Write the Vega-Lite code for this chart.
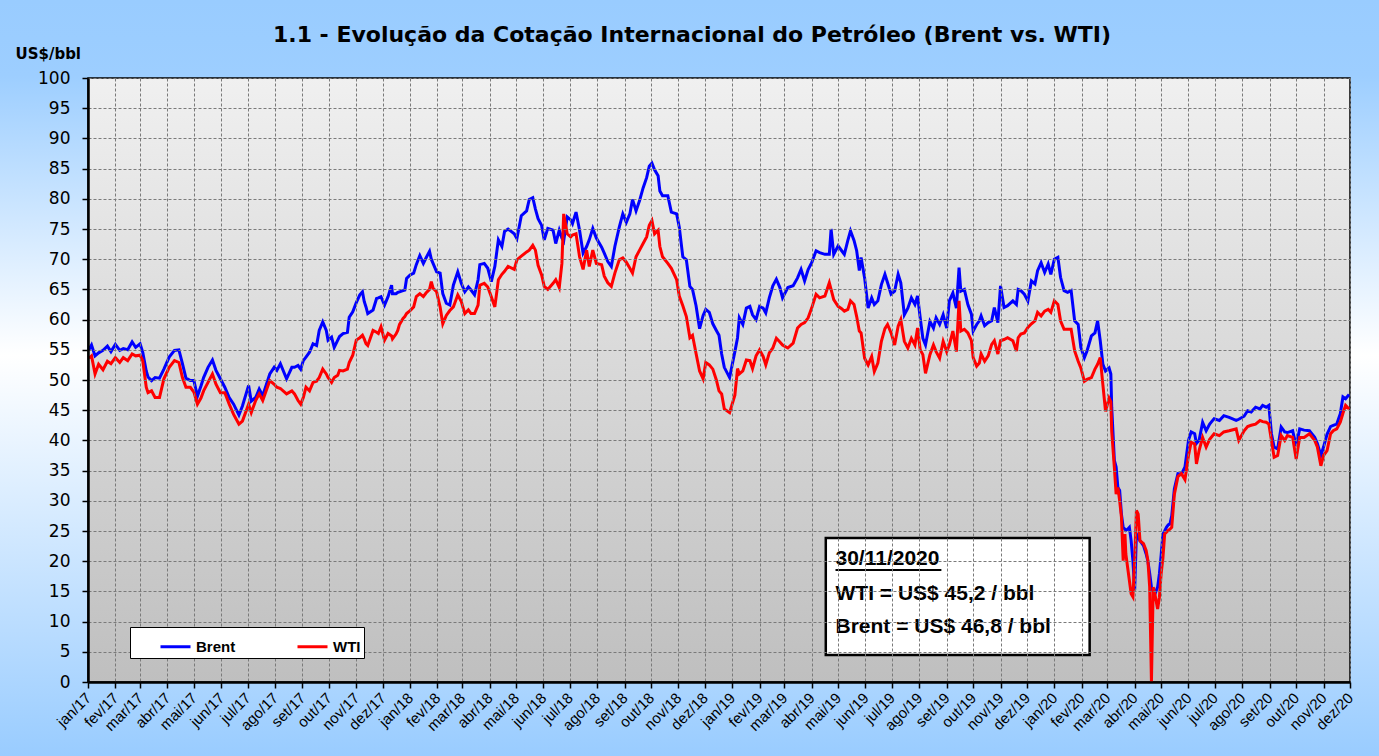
{
  "$schema": "https://vega.github.io/schema/vega-lite/v6.json",
  "width": 1262,
  "height": 604,
  "autosize": {"type": "none"},
  "padding": {"left": 88, "top": 78, "right": 29, "bottom": 74},
  "background": "#99ccff",
  "config": {
    "axis": {"labelOverlap": false, "labelSeparation": -20},
    "axisY": {
      "labelOverlap": false,
      "tickCount": 20,
      "labelFont": "DejaVu Sans",
      "labelFontSize": 17,
      "labelColor": "black",
      "labelPadding": 12,
      "tickColor": "black",
      "tickSize": 6,
      "tickWidth": 1.5,
      "domainColor": "black",
      "domainWidth": 2.5,
      "gridColor": "#7a7a7a",
      "gridDash": [3, 2],
      "gridWidth": 1
    }
  },
  "title": {
    "text": "1.1 - Evolução da Cotação Internacional do Petróleo (Brent vs. WTI)",
    "font": "DejaVu Sans",
    "fontSize": 22,
    "fontWeight": "bold",
    "color": "black",
    "anchor": "middle",
    "baseline": "alphabetic",
    "offset": -64,
    "dx": -27
  },
  "datasets": {
    "precos": [
      {"date":"2017-01-02","Brent":55.0,"WTI":53.6},
      {"date":"2017-01-05","Brent":55.8,"WTI":54.0},
      {"date":"2017-01-09","Brent":54.0,"WTI":51.0},
      {"date":"2017-01-13","Brent":54.5,"WTI":52.6},
      {"date":"2017-01-18","Brent":54.9,"WTI":51.7},
      {"date":"2017-01-23","Brent":55.6,"WTI":53.1},
      {"date":"2017-01-27","Brent":54.7,"WTI":52.7},
      {"date":"2017-02-01","Brent":55.9,"WTI":53.7},
      {"date":"2017-02-06","Brent":54.9,"WTI":52.9},
      {"date":"2017-02-10","Brent":55.2,"WTI":53.7},
      {"date":"2017-02-15","Brent":55.0,"WTI":53.2},
      {"date":"2017-02-20","Brent":56.3,"WTI":54.3},
      {"date":"2017-02-24","Brent":55.4,"WTI":54.0},
      {"date":"2017-03-01","Brent":56.0,"WTI":54.1},
      {"date":"2017-03-04","Brent":54.6,"WTI":53.2},
      {"date":"2017-03-08","Brent":51.5,"WTI":48.8},
      {"date":"2017-03-10","Brent":50.5,"WTI":47.9},
      {"date":"2017-03-14","Brent":49.9,"WTI":48.2},
      {"date":"2017-03-18","Brent":50.4,"WTI":47.1},
      {"date":"2017-03-23","Brent":50.3,"WTI":47.1},
      {"date":"2017-03-28","Brent":51.8,"WTI":50.2},
      {"date":"2017-04-03","Brent":53.8,"WTI":52.1},
      {"date":"2017-04-09","Brent":54.9,"WTI":53.2},
      {"date":"2017-04-14","Brent":55.0,"WTI":52.9},
      {"date":"2017-04-18","Brent":52.7,"WTI":50.4},
      {"date":"2017-04-22","Brent":50.3,"WTI":48.8},
      {"date":"2017-04-27","Brent":49.9,"WTI":48.8},
      {"date":"2017-05-01","Brent":49.9,"WTI":48.0},
      {"date":"2017-05-05","Brent":47.3,"WTI":46.0},
      {"date":"2017-05-09","Brent":49.0,"WTI":47.0},
      {"date":"2017-05-12","Brent":50.4,"WTI":48.2},
      {"date":"2017-05-17","Brent":52.1,"WTI":49.6},
      {"date":"2017-05-22","Brent":53.3,"WTI":51.0},
      {"date":"2017-05-26","Brent":51.6,"WTI":49.3},
      {"date":"2017-05-31","Brent":50.2,"WTI":47.9},
      {"date":"2017-06-05","Brent":48.8,"WTI":47.9},
      {"date":"2017-06-10","Brent":47.1,"WTI":46.0},
      {"date":"2017-06-15","Brent":46.0,"WTI":44.3},
      {"date":"2017-06-21","Brent":44.2,"WTI":42.7},
      {"date":"2017-06-25","Brent":45.7,"WTI":43.2},
      {"date":"2017-07-02","Brent":49.1,"WTI":46.0},
      {"date":"2017-07-05","Brent":46.5,"WTI":44.6},
      {"date":"2017-07-10","Brent":47.1,"WTI":46.6},
      {"date":"2017-07-14","Brent":48.5,"WTI":47.7},
      {"date":"2017-07-18","Brent":47.4,"WTI":46.6},
      {"date":"2017-07-26","Brent":51.0,"WTI":49.9},
      {"date":"2017-07-31","Brent":52.1,"WTI":49.3},
      {"date":"2017-08-03","Brent":51.6,"WTI":48.8},
      {"date":"2017-08-07","Brent":52.7,"WTI":48.6},
      {"date":"2017-08-14","Brent":50.2,"WTI":47.7},
      {"date":"2017-08-20","Brent":52.1,"WTI":48.2},
      {"date":"2017-08-23","Brent":52.1,"WTI":47.7},
      {"date":"2017-08-27","Brent":52.4,"WTI":46.6},
      {"date":"2017-08-30","Brent":51.8,"WTI":46.0},
      {"date":"2017-09-02","Brent":53.2,"WTI":47.1},
      {"date":"2017-09-05","Brent":53.8,"WTI":48.8},
      {"date":"2017-09-09","Brent":54.6,"WTI":48.2},
      {"date":"2017-09-13","Brent":56.0,"WTI":49.6},
      {"date":"2017-09-17","Brent":55.7,"WTI":49.8},
      {"date":"2017-09-20","Brent":58.2,"WTI":50.4},
      {"date":"2017-09-24","Brent":59.6,"WTI":51.8},
      {"date":"2017-09-28","Brent":58.2,"WTI":51.0},
      {"date":"2017-09-30","Brent":56.6,"WTI":50.4},
      {"date":"2017-10-04","Brent":57.1,"WTI":49.6},
      {"date":"2017-10-07","Brent":55.4,"WTI":50.4},
      {"date":"2017-10-11","Brent":56.6,"WTI":50.8},
      {"date":"2017-10-13","Brent":57.2,"WTI":51.6},
      {"date":"2017-10-17","Brent":57.7,"WTI":51.5},
      {"date":"2017-10-22","Brent":57.9,"WTI":51.8},
      {"date":"2017-10-24","Brent":60.4,"WTI":52.9},
      {"date":"2017-10-28","Brent":61.3,"WTI":54.1},
      {"date":"2017-11-01","Brent":62.8,"WTI":56.6},
      {"date":"2017-11-05","Brent":64.1,"WTI":57.0},
      {"date":"2017-11-08","Brent":64.6,"WTI":57.4},
      {"date":"2017-11-10","Brent":63.0,"WTI":56.8},
      {"date":"2017-11-12","Brent":62.1,"WTI":56.0},
      {"date":"2017-11-14","Brent":61.0,"WTI":55.7},
      {"date":"2017-11-20","Brent":61.6,"WTI":58.2},
      {"date":"2017-11-24","Brent":63.5,"WTI":57.9},
      {"date":"2017-11-26","Brent":63.6,"WTI":57.7},
      {"date":"2017-11-29","Brent":63.8,"WTI":58.8},
      {"date":"2017-12-03","Brent":62.4,"WTI":56.6},
      {"date":"2017-12-07","Brent":63.8,"WTI":57.7},
      {"date":"2017-12-11","Brent":65.7,"WTI":57.3},
      {"date":"2017-12-12","Brent":64.3,"WTI":56.8},
      {"date":"2017-12-16","Brent":64.3,"WTI":57.6},
      {"date":"2017-12-18","Brent":64.5,"WTI":58.2},
      {"date":"2017-12-20","Brent":64.6,"WTI":59.2},
      {"date":"2017-12-24","Brent":64.8,"WTI":60.2},
      {"date":"2017-12-26","Brent":64.9,"WTI":60.5},
      {"date":"2017-12-28","Brent":66.8,"WTI":61.0},
      {"date":"2018-01-01","Brent":67.4,"WTI":61.5},
      {"date":"2018-01-05","Brent":67.7,"WTI":62.1},
      {"date":"2018-01-08","Brent":69.1,"WTI":63.8},
      {"date":"2018-01-12","Brent":70.6,"WTI":64.3},
      {"date":"2018-01-16","Brent":69.3,"WTI":63.8},
      {"date":"2018-01-19","Brent":70.2,"WTI":64.4},
      {"date":"2018-01-23","Brent":71.3,"WTI":65.0},
      {"date":"2018-01-25","Brent":70.0,"WTI":66.3},
      {"date":"2018-01-27","Brent":69.3,"WTI":65.2},
      {"date":"2018-01-31","Brent":67.9,"WTI":64.6},
      {"date":"2018-02-04","Brent":67.7,"WTI":62.1},
      {"date":"2018-02-07","Brent":64.3,"WTI":59.3},
      {"date":"2018-02-11","Brent":62.7,"WTI":60.7},
      {"date":"2018-02-15","Brent":62.4,"WTI":61.5},
      {"date":"2018-02-19","Brent":65.7,"WTI":62.1},
      {"date":"2018-02-24","Brent":67.9,"WTI":64.1},
      {"date":"2018-02-28","Brent":66.0,"WTI":63.0},
      {"date":"2018-03-04","Brent":64.6,"WTI":61.0},
      {"date":"2018-03-08","Brent":65.4,"WTI":61.6},
      {"date":"2018-03-11","Brent":64.9,"WTI":61.0},
      {"date":"2018-03-15","Brent":64.1,"WTI":61.0},
      {"date":"2018-03-19","Brent":66.6,"WTI":62.4},
      {"date":"2018-03-21","Brent":69.1,"WTI":65.7},
      {"date":"2018-03-26","Brent":69.3,"WTI":66.0},
      {"date":"2018-03-30","Brent":68.5,"WTI":65.4},
      {"date":"2018-04-03","Brent":66.3,"WTI":63.8},
      {"date":"2018-04-07","Brent":68.8,"WTI":62.1},
      {"date":"2018-04-11","Brent":73.2,"WTI":66.6},
      {"date":"2018-04-15","Brent":72.1,"WTI":67.5},
      {"date":"2018-04-18","Brent":74.6,"WTI":68.0},
      {"date":"2018-04-22","Brent":75.0,"WTI":68.8},
      {"date":"2018-04-29","Brent":74.2,"WTI":68.3},
      {"date":"2018-05-02","Brent":73.4,"WTI":69.9},
      {"date":"2018-05-07","Brent":77.2,"WTI":70.5},
      {"date":"2018-05-13","Brent":78.0,"WTI":71.2},
      {"date":"2018-05-16","Brent":79.9,"WTI":71.5},
      {"date":"2018-05-20","Brent":80.2,"WTI":72.3},
      {"date":"2018-05-23","Brent":78.3,"WTI":71.5},
      {"date":"2018-05-26","Brent":76.7,"WTI":69.0},
      {"date":"2018-05-30","Brent":75.6,"WTI":67.4},
      {"date":"2018-06-02","Brent":73.2,"WTI":65.5},
      {"date":"2018-06-06","Brent":75.1,"WTI":65.0},
      {"date":"2018-06-12","Brent":74.8,"WTI":66.0},
      {"date":"2018-06-15","Brent":72.6,"WTI":66.6},
      {"date":"2018-06-19","Brent":74.8,"WTI":65.3},
      {"date":"2018-06-22","Brent":73.5,"WTI":69.3},
      {"date":"2018-06-24","Brent":73.0,"WTI":77.5},
      {"date":"2018-06-28","Brent":77.0,"WTI":74.2},
      {"date":"2018-07-02","Brent":76.5,"WTI":73.7},
      {"date":"2018-07-04","Brent":75.9,"WTI":74.0},
      {"date":"2018-07-08","Brent":77.8,"WTI":74.2},
      {"date":"2018-07-12","Brent":74.8,"WTI":70.4},
      {"date":"2018-07-16","Brent":71.0,"WTI":68.3},
      {"date":"2018-07-20","Brent":72.1,"WTI":71.5},
      {"date":"2018-07-23","Brent":73.2,"WTI":68.8},
      {"date":"2018-07-27","Brent":75.1,"WTI":71.5},
      {"date":"2018-07-31","Brent":73.5,"WTI":69.3},
      {"date":"2018-08-06","Brent":72.0,"WTI":69.1},
      {"date":"2018-08-09","Brent":71.0,"WTI":67.2},
      {"date":"2018-08-13","Brent":69.6,"WTI":66.1},
      {"date":"2018-08-17","Brent":68.8,"WTI":65.5},
      {"date":"2018-08-21","Brent":72.1,"WTI":67.7},
      {"date":"2018-08-26","Brent":75.3,"WTI":69.9},
      {"date":"2018-08-30","Brent":77.5,"WTI":70.2},
      {"date":"2018-09-03","Brent":76.1,"WTI":69.5},
      {"date":"2018-09-07","Brent":77.5,"WTI":68.5},
      {"date":"2018-09-10","Brent":79.9,"WTI":67.7},
      {"date":"2018-09-14","Brent":78.0,"WTI":70.4},
      {"date":"2018-09-18","Brent":79.7,"WTI":71.5},
      {"date":"2018-09-22","Brent":81.8,"WTI":72.6},
      {"date":"2018-09-26","Brent":83.5,"WTI":73.7},
      {"date":"2018-09-29","Brent":85.4,"WTI":75.6},
      {"date":"2018-10-02","Brent":85.9,"WTI":76.4},
      {"date":"2018-10-05","Brent":84.8,"WTI":74.2},
      {"date":"2018-10-09","Brent":83.8,"WTI":74.8},
      {"date":"2018-10-11","Brent":81.3,"WTI":72.1},
      {"date":"2018-10-14","Brent":80.5,"WTI":70.4},
      {"date":"2018-10-20","Brent":80.5,"WTI":69.3},
      {"date":"2018-10-24","Brent":77.8,"WTI":68.5},
      {"date":"2018-10-30","Brent":77.5,"WTI":66.6},
      {"date":"2018-11-02","Brent":75.3,"WTI":63.9},
      {"date":"2018-11-06","Brent":70.4,"WTI":62.3},
      {"date":"2018-11-10","Brent":69.9,"WTI":60.5},
      {"date":"2018-11-14","Brent":65.5,"WTI":57.0},
      {"date":"2018-11-17","Brent":65.0,"WTI":57.4},
      {"date":"2018-11-21","Brent":62.3,"WTI":54.4},
      {"date":"2018-11-25","Brent":58.5,"WTI":51.5},
      {"date":"2018-11-29","Brent":60.7,"WTI":50.2},
      {"date":"2018-12-02","Brent":61.7,"WTI":52.9},
      {"date":"2018-12-06","Brent":61.2,"WTI":52.5},
      {"date":"2018-12-10","Brent":59.3,"WTI":51.8},
      {"date":"2018-12-14","Brent":58.2,"WTI":50.0},
      {"date":"2018-12-17","Brent":57.4,"WTI":48.2},
      {"date":"2018-12-20","Brent":54.3,"WTI":47.7},
      {"date":"2018-12-23","Brent":52.1,"WTI":45.2},
      {"date":"2018-12-29","Brent":50.4,"WTI":44.6},
      {"date":"2019-01-04","Brent":54.7,"WTI":47.5},
      {"date":"2019-01-07","Brent":57.0,"WTI":51.9},
      {"date":"2019-01-09","Brent":60.3,"WTI":51.0},
      {"date":"2019-01-13","Brent":59.2,"WTI":51.5},
      {"date":"2019-01-17","Brent":61.9,"WTI":53.3},
      {"date":"2019-01-21","Brent":62.2,"WTI":53.2},
      {"date":"2019-01-24","Brent":60.8,"WTI":51.9},
      {"date":"2019-01-28","Brent":60.0,"WTI":54.0},
      {"date":"2019-02-01","Brent":62.2,"WTI":55.0},
      {"date":"2019-02-05","Brent":61.9,"WTI":53.9},
      {"date":"2019-02-08","Brent":61.1,"WTI":52.5},
      {"date":"2019-02-12","Brent":63.6,"WTI":54.5},
      {"date":"2019-02-16","Brent":65.6,"WTI":55.3},
      {"date":"2019-02-20","Brent":66.7,"WTI":56.9},
      {"date":"2019-02-24","Brent":65.3,"WTI":56.3},
      {"date":"2019-02-27","Brent":63.6,"WTI":55.8},
      {"date":"2019-03-05","Brent":65.3,"WTI":55.3},
      {"date":"2019-03-11","Brent":65.6,"WTI":56.1},
      {"date":"2019-03-16","Brent":66.9,"WTI":58.6},
      {"date":"2019-03-20","Brent":68.3,"WTI":59.2},
      {"date":"2019-03-24","Brent":66.4,"WTI":59.5},
      {"date":"2019-03-28","Brent":68.3,"WTI":60.3},
      {"date":"2019-04-01","Brent":69.4,"WTI":61.9},
      {"date":"2019-04-06","Brent":71.4,"WTI":64.2},
      {"date":"2019-04-10","Brent":71.1,"WTI":63.6},
      {"date":"2019-04-16","Brent":70.8,"WTI":63.9},
      {"date":"2019-04-21","Brent":70.8,"WTI":66.1},
      {"date":"2019-04-23","Brent":75.0,"WTI":65.0},
      {"date":"2019-04-26","Brent":70.8,"WTI":63.3},
      {"date":"2019-05-01","Brent":72.2,"WTI":62.2},
      {"date":"2019-05-05","Brent":71.4,"WTI":61.8},
      {"date":"2019-05-08","Brent":70.8,"WTI":61.4},
      {"date":"2019-05-12","Brent":73.1,"WTI":61.7},
      {"date":"2019-05-15","Brent":74.7,"WTI":63.1},
      {"date":"2019-05-19","Brent":73.1,"WTI":62.5},
      {"date":"2019-05-22","Brent":71.4,"WTI":60.5},
      {"date":"2019-05-25","Brent":68.1,"WTI":58.1},
      {"date":"2019-05-27","Brent":70.3,"WTI":57.8},
      {"date":"2019-05-31","Brent":66.9,"WTI":53.6},
      {"date":"2019-06-04","Brent":61.9,"WTI":52.5},
      {"date":"2019-06-08","Brent":63.6,"WTI":53.9},
      {"date":"2019-06-11","Brent":62.5,"WTI":51.4},
      {"date":"2019-06-15","Brent":63.1,"WTI":52.8},
      {"date":"2019-06-19","Brent":65.8,"WTI":56.4},
      {"date":"2019-06-23","Brent":67.5,"WTI":58.5},
      {"date":"2019-06-26","Brent":66.1,"WTI":59.2},
      {"date":"2019-06-30","Brent":64.2,"WTI":57.8},
      {"date":"2019-07-04","Brent":64.7,"WTI":55.8},
      {"date":"2019-07-08","Brent":67.5,"WTI":58.9},
      {"date":"2019-07-11","Brent":66.1,"WTI":60.0},
      {"date":"2019-07-15","Brent":60.8,"WTI":56.4},
      {"date":"2019-07-19","Brent":61.9,"WTI":55.3},
      {"date":"2019-07-23","Brent":63.6,"WTI":56.9},
      {"date":"2019-07-27","Brent":62.5,"WTI":55.8},
      {"date":"2019-07-30","Brent":63.9,"WTI":58.6},
      {"date":"2019-08-02","Brent":60.3,"WTI":55.0},
      {"date":"2019-08-05","Brent":56.9,"WTI":54.2},
      {"date":"2019-08-08","Brent":55.8,"WTI":51.1},
      {"date":"2019-08-13","Brent":59.7,"WTI":54.2},
      {"date":"2019-08-17","Brent":58.6,"WTI":55.8},
      {"date":"2019-08-20","Brent":60.3,"WTI":54.7},
      {"date":"2019-08-24","Brent":59.2,"WTI":53.6},
      {"date":"2019-08-28","Brent":60.8,"WTI":56.4},
      {"date":"2019-09-01","Brent":58.6,"WTI":54.7},
      {"date":"2019-09-04","Brent":63.1,"WTI":55.8},
      {"date":"2019-09-08","Brent":64.4,"WTI":58.1},
      {"date":"2019-09-12","Brent":61.9,"WTI":54.7},
      {"date":"2019-09-15","Brent":68.6,"WTI":63.1},
      {"date":"2019-09-17","Brent":64.7,"WTI":58.1},
      {"date":"2019-09-21","Brent":65.0,"WTI":58.4},
      {"date":"2019-09-25","Brent":62.5,"WTI":57.8},
      {"date":"2019-09-29","Brent":60.9,"WTI":56.5},
      {"date":"2019-10-01","Brent":58.1,"WTI":53.7},
      {"date":"2019-10-05","Brent":59.2,"WTI":52.3},
      {"date":"2019-10-08","Brent":59.8,"WTI":52.8},
      {"date":"2019-10-10","Brent":60.6,"WTI":54.3},
      {"date":"2019-10-14","Brent":59.0,"WTI":53.1},
      {"date":"2019-10-18","Brent":59.5,"WTI":54.0},
      {"date":"2019-10-22","Brent":59.8,"WTI":55.9},
      {"date":"2019-10-25","Brent":62.0,"WTI":56.5},
      {"date":"2019-10-29","Brent":59.5,"WTI":54.3},
      {"date":"2019-11-01","Brent":65.6,"WTI":56.5},
      {"date":"2019-11-05","Brent":62.0,"WTI":56.7},
      {"date":"2019-11-09","Brent":62.3,"WTI":57.0},
      {"date":"2019-11-15","Brent":63.1,"WTI":56.5},
      {"date":"2019-11-19","Brent":62.5,"WTI":54.8},
      {"date":"2019-11-21","Brent":65.0,"WTI":57.0},
      {"date":"2019-11-24","Brent":64.8,"WTI":57.6},
      {"date":"2019-11-28","Brent":64.2,"WTI":57.8},
      {"date":"2019-12-02","Brent":63.1,"WTI":58.7},
      {"date":"2019-12-06","Brent":66.4,"WTI":59.3},
      {"date":"2019-12-10","Brent":65.9,"WTI":59.8},
      {"date":"2019-12-13","Brent":68.1,"WTI":61.2},
      {"date":"2019-12-17","Brent":69.4,"WTI":60.6},
      {"date":"2019-12-21","Brent":67.8,"WTI":61.4},
      {"date":"2019-12-25","Brent":69.2,"WTI":61.7},
      {"date":"2019-12-28","Brent":67.5,"WTI":61.2},
      {"date":"2020-01-01","Brent":70.0,"WTI":63.1},
      {"date":"2020-01-05","Brent":70.3,"WTI":62.5},
      {"date":"2020-01-08","Brent":67.0,"WTI":59.8},
      {"date":"2020-01-12","Brent":64.8,"WTI":58.4},
      {"date":"2020-01-16","Brent":64.5,"WTI":58.4},
      {"date":"2020-01-20","Brent":64.8,"WTI":58.4},
      {"date":"2020-01-24","Brent":59.8,"WTI":54.8},
      {"date":"2020-01-28","Brent":59.2,"WTI":53.1},
      {"date":"2020-01-31","Brent":55.4,"WTI":52.0},
      {"date":"2020-02-04","Brent":53.7,"WTI":49.8},
      {"date":"2020-02-07","Brent":54.8,"WTI":50.1},
      {"date":"2020-02-12","Brent":57.3,"WTI":50.4},
      {"date":"2020-02-16","Brent":57.8,"WTI":51.8},
      {"date":"2020-02-19","Brent":59.8,"WTI":52.6},
      {"date":"2020-02-22","Brent":56.5,"WTI":53.7},
      {"date":"2020-02-25","Brent":52.6,"WTI":49.2},
      {"date":"2020-02-28","Brent":51.5,"WTI":44.8},
      {"date":"2020-03-03","Brent":52.0,"WTI":47.0},
      {"date":"2020-03-05","Brent":51.0,"WTI":46.4},
      {"date":"2020-03-06","Brent":45.5,"WTI":41.5},
      {"date":"2020-03-09","Brent":36.7,"WTI":35.5},
      {"date":"2020-03-11","Brent":35.6,"WTI":31.1},
      {"date":"2020-03-13","Brent":32.2,"WTI":32.2},
      {"date":"2020-03-15","Brent":31.7,"WTI":30.0},
      {"date":"2020-03-17","Brent":27.8,"WTI":27.3},
      {"date":"2020-03-19","Brent":25.6,"WTI":20.1},
      {"date":"2020-03-21","Brent":25.3,"WTI":24.5},
      {"date":"2020-03-22","Brent":25.1,"WTI":21.2},
      {"date":"2020-03-24","Brent":25.3,"WTI":19.0},
      {"date":"2020-03-26","Brent":25.6,"WTI":16.8},
      {"date":"2020-03-28","Brent":23.4,"WTI":14.6},
      {"date":"2020-03-30","Brent":20.1,"WTI":14.1},
      {"date":"2020-04-01","Brent":15.2,"WTI":20.1},
      {"date":"2020-04-03","Brent":24.5,"WTI":28.4},
      {"date":"2020-04-05","Brent":24.0,"WTI":27.8},
      {"date":"2020-04-07","Brent":23.4,"WTI":23.4},
      {"date":"2020-04-11","Brent":22.6,"WTI":22.9},
      {"date":"2020-04-14","Brent":21.2,"WTI":21.8},
      {"date":"2020-04-16","Brent":20.0,"WTI":20.1},
      {"date":"2020-04-18","Brent":18.0,"WTI":15.7},
      {"date":"2020-04-20","Brent":15.7,"WTI":0},
      {"date":"2020-04-22","Brent":15.0,"WTI":15.7},
      {"date":"2020-04-24","Brent":14.6,"WTI":14.5},
      {"date":"2020-04-27","Brent":15.7,"WTI":12.1},
      {"date":"2020-04-29","Brent":17.9,"WTI":14.0},
      {"date":"2020-05-01","Brent":21.0,"WTI":17.9},
      {"date":"2020-05-03","Brent":24.5,"WTI":20.5},
      {"date":"2020-05-05","Brent":25.0,"WTI":24.5},
      {"date":"2020-05-07","Brent":25.6,"WTI":24.8},
      {"date":"2020-05-09","Brent":26.0,"WTI":25.1},
      {"date":"2020-05-11","Brent":26.2,"WTI":25.3},
      {"date":"2020-05-13","Brent":27.5,"WTI":25.6},
      {"date":"2020-05-16","Brent":32.0,"WTI":31.1},
      {"date":"2020-05-20","Brent":34.5,"WTI":34.0},
      {"date":"2020-05-24","Brent":34.4,"WTI":34.5},
      {"date":"2020-05-28","Brent":35.6,"WTI":33.5},
      {"date":"2020-06-01","Brent":40.0,"WTI":37.5},
      {"date":"2020-06-04","Brent":41.4,"WTI":39.7},
      {"date":"2020-06-08","Brent":41.1,"WTI":39.4},
      {"date":"2020-06-10","Brent":39.5,"WTI":36.1},
      {"date":"2020-06-13","Brent":40.0,"WTI":38.3},
      {"date":"2020-06-17","Brent":43.0,"WTI":40.5},
      {"date":"2020-06-21","Brent":41.6,"WTI":38.9},
      {"date":"2020-06-25","Brent":42.7,"WTI":40.2},
      {"date":"2020-06-30","Brent":43.6,"WTI":41.1},
      {"date":"2020-07-06","Brent":43.3,"WTI":40.8},
      {"date":"2020-07-11","Brent":44.1,"WTI":41.4},
      {"date":"2020-07-17","Brent":43.8,"WTI":41.6},
      {"date":"2020-07-25","Brent":43.3,"WTI":41.9},
      {"date":"2020-07-28","Brent":43.5,"WTI":40.0},
      {"date":"2020-08-03","Brent":44.0,"WTI":41.6},
      {"date":"2020-08-07","Brent":44.9,"WTI":42.3},
      {"date":"2020-08-11","Brent":44.7,"WTI":42.5},
      {"date":"2020-08-16","Brent":45.5,"WTI":42.7},
      {"date":"2020-08-21","Brent":45.2,"WTI":43.3},
      {"date":"2020-08-24","Brent":45.8,"WTI":43.1},
      {"date":"2020-08-28","Brent":45.5,"WTI":43.0},
      {"date":"2020-08-31","Brent":45.8,"WTI":42.7},
      {"date":"2020-09-03","Brent":41.1,"WTI":40.0},
      {"date":"2020-09-06","Brent":38.9,"WTI":37.2},
      {"date":"2020-09-10","Brent":38.6,"WTI":37.5},
      {"date":"2020-09-14","Brent":42.2,"WTI":40.8},
      {"date":"2020-09-18","Brent":41.4,"WTI":40.0},
      {"date":"2020-09-21","Brent":41.3,"WTI":40.8},
      {"date":"2020-09-27","Brent":41.6,"WTI":40.5},
      {"date":"2020-10-01","Brent":39.1,"WTI":36.9},
      {"date":"2020-10-05","Brent":41.9,"WTI":40.5},
      {"date":"2020-10-10","Brent":41.7,"WTI":40.5},
      {"date":"2020-10-16","Brent":41.6,"WTI":41.1},
      {"date":"2020-10-22","Brent":40.5,"WTI":40.0},
      {"date":"2020-10-25","Brent":39.5,"WTI":38.9},
      {"date":"2020-10-29","Brent":37.5,"WTI":35.8},
      {"date":"2020-11-01","Brent":38.9,"WTI":37.5},
      {"date":"2020-11-05","Brent":41.0,"WTI":38.3},
      {"date":"2020-11-09","Brent":42.3,"WTI":41.1},
      {"date":"2020-11-12","Brent":42.5,"WTI":41.6},
      {"date":"2020-11-16","Brent":42.7,"WTI":41.9},
      {"date":"2020-11-20","Brent":44.4,"WTI":43.0},
      {"date":"2020-11-23","Brent":47.2,"WTI":44.5},
      {"date":"2020-11-26","Brent":46.9,"WTI":45.8},
      {"date":"2020-11-30","Brent":47.6,"WTI":45.2}
    ]
  },
  "layer": [
    {
      "data": {"values": [{}]},
      "mark": {
        "type": "rect",
        "stroke": null,
        "fill": {
          "gradient": "linear",
          "x1": 0, "y1": 0, "x2": 0, "y2": 1,
          "stops": [
            {"offset": 0, "color": "#99ccff"},
            {"offset": 0.1, "color": "#9dceff"},
            {"offset": 0.47, "color": "#ffffff"},
            {"offset": 1, "color": "#99ccff"}
          ]
        }
      },
      "encoding": {
        "x": {"datum": {"year": 2016, "month": 9, "date": 23, "utc": true}, "type": "temporal", "title": null,
              "scale": {"type": "utc", "domain": [{"year": 2017, "month": 1, "date": 1, "utc": true}, {"year": 2020, "month": 12, "date": 1, "utc": true}]}},
        "x2": {"datum": {"year": 2021, "month": 1, "date": 3, "utc": true}, "title": null},
        "y": {"datum": -12.25, "type": "quantitative", "title": null, "scale": {"domain": [0, 100], "nice": false}},
        "y2": {"datum": 112.91, "title": null}
      }
    },
    {
      "data": {"values": [{}]},
      "mark": {
        "type": "rect",
        "stroke": "black",
        "strokeWidth": 1.5,
        "fill": {
          "gradient": "linear",
          "x1": 0, "y1": 0, "x2": 0, "y2": 1,
          "stops": [
            {"offset": 0, "color": "#f0f0f0"},
            {"offset": 1, "color": "#bfbfbf"}
          ]
        }
      },
      "encoding": {
        "x": {"datum": {"year": 2017, "month": 1, "date": 1, "utc": true}, "type": "temporal", "title": null,
              "scale": {"type": "utc", "domain": [{"year": 2017, "month": 1, "date": 1, "utc": true}, {"year": 2020, "month": 12, "date": 1, "utc": true}]}},
        "x2": {"datum": {"year": 2020, "month": 12, "date": 1, "utc": true}, "title": null},
        "y": {"datum": 0, "type": "quantitative", "title": null, "scale": {"domain": [0, 100], "nice": false}},
        "y2": {"datum": 100, "title": null}
      }
    },
    {
      "data": {"name": "precos"},
      "transform": [{"fold": ["Brent", "WTI"], "as": ["serie", "valor"]}],
      "mark": {"type": "line", "strokeWidth": 3},
      "encoding": {
        "x": {
          "field": "date",
          "type": "temporal",
          "title": null,
          "scale": {"type": "utc", "domain": [{"year": 2017, "month": 1, "date": 1, "utc": true}, {"year": 2020, "month": 12, "date": 1, "utc": true}]},
          "axis": {
            "tickCount": {"interval": "month", "step": 1},
            "labelExpr": "['jan','fev','mar','abr','mai','jun','jul','ago','set','out','nov','dez'][utcmonth(datum.value)] + '/' + utcFormat(datum.value, '%y')",
            "labelAngle": -45,
            "labelAlign": "right",
            "labelBaseline": "middle",
            "labelFont": "Liberation Sans",
            "labelFontSize": 15,
            "labelColor": "black",
            "labelPadding": 7,
            "labelOverlap": false,
            "labelFlush": false,
            "labelBound": false,
            "tickColor": "black",
            "tickSize": 6,
            "tickWidth": 1.5,
            "domainColor": "black",
            "domainWidth": 2.5,
            "grid": true,
            "gridColor": "#7a7a7a",
            "gridDash": [3, 2],
            "gridWidth": 1,
            "zindex": 1
          }
        },
        "y": {
          "field": "valor",
          "type": "quantitative",
          "title": "US$/bbl",
          "scale": {"domain": [0, 100], "nice": false},
          "axis": {
            "titleFont": "DejaVu Sans",
            "titleFontSize": 15,
            "titleFontWeight": "bold",
            "titleColor": "black",
            "titleAngle": 0,
            "titleAlign": "left",
            "titleBaseline": "middle",
            "titleX": -73,
            "titleY": -25,
            "tickCount": 20,
            "labelOverlap": false,
            "labelFlush": false,
            "grid": true,
            "zindex": 1
          }
        },
        "color": {
          "field": "serie",
          "type": "nominal",
          "scale": {"domain": ["Brent", "WTI"], "range": ["#0000ff", "#ff0000"]},
          "legend": {
            "title": null,
            "orient": "none",
            "legendX": 42,
            "legendY": 549,
            "direction": "horizontal",
            "fillColor": "white",
            "strokeColor": "black",
            "padding": 3,
            "symbolType": "stroke",
            "symbolStrokeWidth": 3,
            "symbolSize": 900,
            "symbolOffset": 26,
            "labelFont": "Liberation Sans",
            "labelFontSize": 15,
            "labelFontWeight": "bold",
            "labelColor": "black",
            "labelOffset": 4,
            "columnPadding": 34,
            "gridAlign": "all",
            "zindex": 2
          }
        }
      }
    },
    {
      "data": {"values": [{}]},
      "mark": {"type": "rect", "fill": "white", "stroke": "black", "strokeWidth": 2.5},
      "encoding": {
        "x": {"datum": {"year": 2019, "month": 4, "date": 17, "utc": true}, "type": "temporal", "title": null,
              "scale": {"type": "utc", "domain": [{"year": 2017, "month": 1, "date": 1, "utc": true}, {"year": 2020, "month": 12, "date": 1, "utc": true}]}},
        "x2": {"datum": {"year": 2020, "month": 2, "date": 10, "utc": true}, "title": null},
        "y": {"datum": 4.47, "type": "quantitative", "title": null, "scale": {"domain": [0, 100], "nice": false}},
        "y2": {"datum": 23.84, "title": null}
      }
    },
    {
      "data": {"values": [{}]},
      "mark": {"type": "rule", "color": "black", "strokeWidth": 2},
      "encoding": {
        "x": {"datum": {"year": 2019, "month": 4, "date": 28, "utc": true}, "type": "temporal", "title": null,
              "scale": {"type": "utc", "domain": [{"year": 2017, "month": 1, "date": 1, "utc": true}, {"year": 2020, "month": 12, "date": 1, "utc": true}]}},
        "x2": {"datum": {"year": 2019, "month": 8, "date": 26, "utc": true}, "title": null},
        "y": {"datum": 18.54, "type": "quantitative", "title": null, "scale": {"domain": [0, 100], "nice": false}}
      }
    },
    {
      "data": {"values": [{}]},
      "mark": {"type": "text", "text": "30/11/2020", "font": "Liberation Sans", "fontSize": 21, "fontWeight": "bold", "color": "black", "align": "left", "baseline": "alphabetic"},
      "encoding": {
        "x": {"datum": {"year": 2019, "month": 4, "date": 28, "utc": true}, "type": "temporal", "title": null,
              "scale": {"type": "utc", "domain": [{"year": 2017, "month": 1, "date": 1, "utc": true}, {"year": 2020, "month": 12, "date": 1, "utc": true}]}},
        "y": {"datum": 19.37, "type": "quantitative", "title": null, "scale": {"domain": [0, 100], "nice": false}}
      }
    },
    {
      "data": {"values": [{}]},
      "mark": {"type": "text", "text": "WTI = US$ 45,2 / bbl", "font": "Liberation Sans", "fontSize": 21, "fontWeight": "bold", "color": "black", "align": "left", "baseline": "alphabetic"},
      "encoding": {
        "x": {"datum": {"year": 2019, "month": 4, "date": 28, "utc": true}, "type": "temporal", "title": null,
              "scale": {"type": "utc", "domain": [{"year": 2017, "month": 1, "date": 1, "utc": true}, {"year": 2020, "month": 12, "date": 1, "utc": true}]}},
        "y": {"datum": 13.58, "type": "quantitative", "title": null, "scale": {"domain": [0, 100], "nice": false}}
      }
    },
    {
      "data": {"values": [{}]},
      "mark": {"type": "text", "text": "Brent = US$ 46,8 / bbl", "font": "Liberation Sans", "fontSize": 21, "fontWeight": "bold", "color": "black", "align": "left", "baseline": "alphabetic"},
      "encoding": {
        "x": {"datum": {"year": 2019, "month": 4, "date": 28, "utc": true}, "type": "temporal", "title": null,
              "scale": {"type": "utc", "domain": [{"year": 2017, "month": 1, "date": 1, "utc": true}, {"year": 2020, "month": 12, "date": 1, "utc": true}]}},
        "y": {"datum": 8.06, "type": "quantitative", "title": null, "scale": {"domain": [0, 100], "nice": false}}
      }
    }
  ]
}
